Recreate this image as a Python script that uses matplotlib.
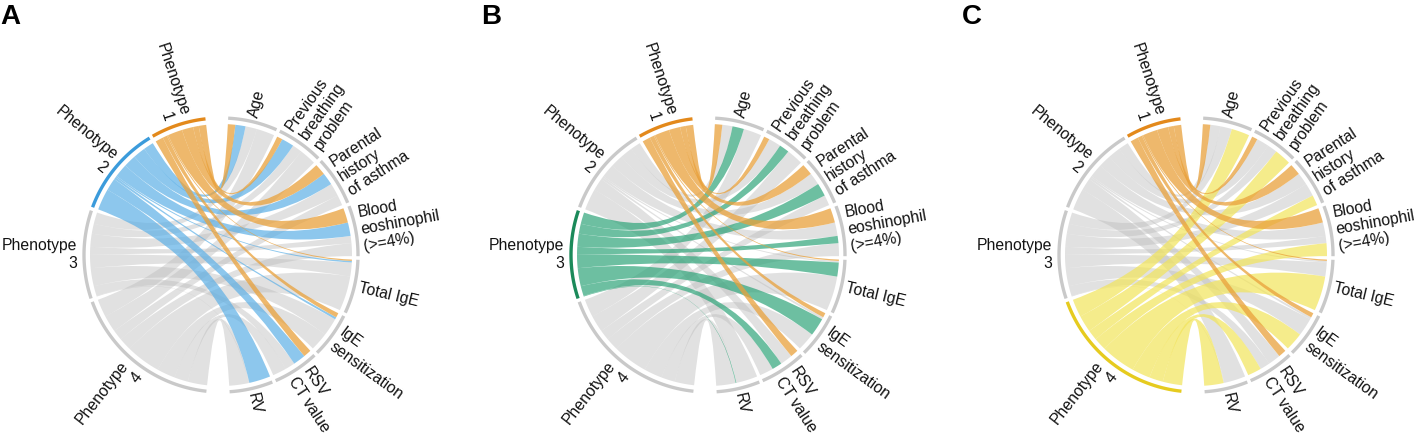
import numpy as np
import matplotlib.pyplot as plt
from matplotlib.path import Path
from matplotlib.patches import PathPatch

plt.rcParams['font.family'] = ['Liberation Sans', 'DejaVu Sans']

phenotypes = ['Phenotype\n1', 'Phenotype\n2', 'Phenotype\n3', 'Phenotype\n4']
variables = ['Age', 'Previous\nbreathing\nproblem', 'Parental\nhistory\nof asthma',
             'Blood\neoshinophil\n(>=4%)', 'Total IgE', 'IgE\nsensitization',
             'RSV\nCT value', 'RV']

# link widths phenotype -> variable
p1 = [3.3, 2.5, 5.0, 6.5, 0.6, 2.0, 3.5, 0.0]
p2 = [4.5, 5.5, 5.5, 6.0, 0.7, 1.0, 5.5, 9.5]
p3 = [5.1, 4.4, 5.8, 3.2, 6.2, 8.0, 4.4, 0.3]
p4 = [8.0, 7.4, 4.6, 5.7, 15.4, 8.1, 6.1, 8.6]

panels = ['A', 'B', 'C']
highlight = [1, 2, 3]

mat = np.array([p1, p2, p3, p4])
rows = mat.sum(axis=1)
cols = mat.sum(axis=0)

ring_col = ['#E3891B', '#3B9BDB', '#1B8A5A', '#E6CB1F']
link_col = ['#E9A13B', '#5DB0E6', '#2FA57A', '#F2E45A']
link_alpha = [0.75, 0.7, 0.7, 0.7]
grey_ring = '#C9C9C9'
grey_link = '#BDBDBD'

gap = 1.5
right_start = 87.0
left_start = 96.5
r_link = 131
r_ring = 137

fig = plt.figure(figsize=(14.18, 4.36), dpi=100)
ax = fig.add_axes([0, 0, 1, 1])
ax.set_xlim(0, 1418)
ax.set_ylim(436, 0)
ax.axis('off')


def pt(cx, cy, r, deg):
    return (cx + r*np.cos(np.radians(deg)), cy - r*np.sin(np.radians(deg)))


def arc(cx, cy, r, a, b, n=40):
    t = np.radians(np.linspace(a, b, n))
    return np.column_stack([cx + r*np.cos(t), cy - r*np.sin(t)])


def ribbon(cx, cy, pa0, pa1, vb0, vb1, color, alpha):
    a1 = arc(cx, cy, r_link, pa0, pa1)
    a2 = arc(cx, cy, r_link, vb1, vb0)
    verts = list(a1) + [(cx, cy), tuple(a2[0])] + list(a2[1:]) + [(cx, cy), tuple(a1[0]), tuple(a1[0])]
    codes = [Path.MOVETO] + [Path.LINETO]*(len(a1)-1) + [Path.CURVE3, Path.CURVE3] \
        + [Path.LINETO]*(len(a2)-1) + [Path.CURVE3, Path.CURVE3, Path.CLOSEPOLY]
    ax.add_patch(PathPatch(Path(verts, codes), facecolor=color, edgecolor='none', alpha=alpha))


def draw_panel(cx, cy, hl, letter, lx):
    # sector angles, phenotypes counterclockwise on the left, variables clockwise on the right
    ph = []
    th = left_start
    for i in range(4):
        ph.append((th, th + rows[i]))
        th += rows[i] + gap
    va = []
    th = right_start
    for j in range(8):
        va.append((th, th - cols[j]))
        th -= cols[j] + gap

    vpos = [s for s, e in va]
    vlinks = {}
    for j in range(8):
        for i in range(4):
            w = mat[i, j]
            vlinks[(i, j)] = (vpos[j], vpos[j] - w)
            vpos[j] -= w
    ppos = [s for s, e in ph]
    plinks = {}
    for i in range(4):
        for j in range(8):
            w = mat[i, j]
            plinks[(i, j)] = (ppos[i], ppos[i] + w)
            ppos[i] += w

    order = [i for i in range(4) if i not in (0, hl)] + [hl, 0]
    for i in order:
        if i in (0, hl):
            c, a = link_col[i], link_alpha[i]
        else:
            c, a = grey_link, 0.45
        for j in range(8):
            if mat[i, j] <= 0:
                continue
            pa0, pa1 = plinks[(i, j)]
            vb0, vb1 = vlinks[(i, j)]
            ribbon(cx, cy, pa0, pa1, vb0, vb1, c, a)

    # outer track + labels
    for i, (s, e) in enumerate(ph):
        c = ring_col[i] if i in (0, hl) else grey_ring
        xy = arc(cx, cy, r_ring, s, e)
        ax.plot(xy[:, 0], xy[:, 1], color=c, lw=2.4, solid_capstyle='butt')
        m = (s + e) / 2
        x, y = pt(cx, cy, 144, m)
        ax.text(x, y, phenotypes[i], rotation=m - 180, rotation_mode='anchor',
                ha='right', va='center', multialignment='right', fontsize=11.3,
                color='#111111')
    for j, (s, e) in enumerate(va):
        xy = arc(cx, cy, r_ring, e, s)
        ax.plot(xy[:, 0], xy[:, 1], color=grey_ring, lw=2.4, solid_capstyle='butt')
        m = (s + e) / 2
        x, y = pt(cx, cy, 142, m)
        ax.text(x, y, variables[j], rotation=m, rotation_mode='anchor',
                ha='left', va='center', multialignment='left', fontsize=11.3,
                color='#111111')

    ax.text(lx, 4, letter, fontsize=20, fontweight='bold', ha='left', va='top')


centers = [221, 708, 1196]
letter_x = [0, 481, 962]
for k in range(3):
    draw_panel(centers[k], 255, highlight[k], panels[k], letter_x[k])

fig.savefig('out.png', dpi=100)
